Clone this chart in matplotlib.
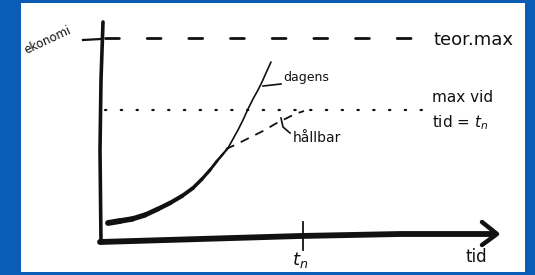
import numpy as np
import matplotlib
matplotlib.use("Agg")
import matplotlib.pyplot as plt
from matplotlib.collections import LineCollection

# ---- data (chart units: x = time from origin, y = economy level) ----
teor_max = 202
max_vid = 131
t_n = 203

main_t = [8, 20, 32, 45, 58, 70, 82, 93, 102, 110, 117, 123, 128]
main_y = [18, 20, 22, 26, 32, 38, 45, 53, 62, 71, 80, 87, 93]

dagens_t = [128, 133, 138, 143, 148, 153, 158, 162, 166, 171]
dagens_y = [93, 102, 111, 121, 132, 142, 151, 159, 168, 179]

hallbar_t = [126, 135, 145, 155, 165, 175, 185, 195, 204]
hallbar_y = [92, 96, 101, 106, 111, 117, 122, 127, 130]

xaxis_t = [0, 100, 200, 300, 395]
xaxis_y = [-1, 2, 5, 7, 7]
arrow_t = [382, 397, 382]
arrow_y = [19, 7, -4]

yaxis_t = [3, 1, 0, 1]
yaxis_y = [219, 161, 91, -2]

INK = "#111111"
BLUE = "#0b5cb5"

fig = plt.figure(figsize=(5.35, 2.75), dpi=100, facecolor=BLUE)
ax = fig.add_axes([21 / 535, 3 / 275, 504 / 535, 269 / 275])
ax.set_facecolor("white")
ax.set_xlim(-79, 425)
ax.set_ylim(-31, 238)
for s in ax.spines.values():
    s.set_visible(False)
ax.set_xticks([])
ax.set_yticks([])

# axes (hand-drawn)
ax.plot(yaxis_t, yaxis_y, color=INK, lw=2.6, solid_capstyle="round",
        solid_joinstyle="round")
ax.plot(xaxis_t, xaxis_y, color=INK, lw=4.2, solid_capstyle="round",
        solid_joinstyle="round")
ax.plot(arrow_t, arrow_y, color=INK, lw=3.2, solid_capstyle="round",
        solid_joinstyle="round")

# ticks
ax.plot([-17, 1], [teor_max - 1, teor_max], color=INK, lw=1.6)
ax.plot([t_n, t_n], [19, -9], color=INK, lw=1.3)

# theoretical max (dashed)
ax.plot([5, 330], [teor_max + 1, teor_max + 1], color=INK, lw=2.0,
        dashes=(5, 10), dash_capstyle="round")

# max at time t_n (dotted)
ax.plot([5, 325], [max_vid, max_vid], color=INK, lw=1.6,
        dashes=(0.6, 6.5), dash_capstyle="round")

# main thick curve with tapering width
pts = np.column_stack([main_t, main_y])
segs = [pts[i:i + 2] for i in range(len(pts) - 1)]
widths = np.linspace(4.2, 1.6, len(segs))
lc = LineCollection(segs, linewidths=widths, colors=INK, capstyle="round",
                    joinstyle="round")
ax.add_collection(lc)

# dagens (thin continuation)
ax.plot(dagens_t, dagens_y, color=INK, lw=1.2, solid_capstyle="round",
        solid_joinstyle="round")

# hallbar (dashed)
ax.plot(hallbar_t, hallbar_y, color=INK, lw=1.3, dashes=(5, 4))

# pointers
ax.plot([163, 181], [155, 157], color=INK, lw=1.2)
ax.plot([181, 183, 190], [123, 114, 108], color=INK, lw=1.2,
        solid_joinstyle="round")

# labels
ax.text(-52, 201, "ekonomi", fontsize=8.5, rotation=25, ha="center",
        va="center", color=INK)
ax.text(333, 201, "teor.max", fontsize=13, ha="left", va="center", color=INK)
ax.text(332, 143, "max vid", fontsize=11, ha="left", va="center", color=INK)
ax.text(332, 118, "tid = $t_n$", fontsize=11, ha="left", va="center",
        color=INK)
ax.text(183, 163, "dagens", fontsize=9, ha="left", va="center", color=INK)
ax.text(193, 103, "hållbar", fontsize=10, ha="left", va="center", color=INK)
ax.text(200, -19, "$t_n$", fontsize=13, ha="center", va="center", color=INK)
ax.text(376, -16, "tid", fontsize=12, ha="center", va="center", color=INK)

fig.savefig("out.png", dpi=100, facecolor=BLUE)
